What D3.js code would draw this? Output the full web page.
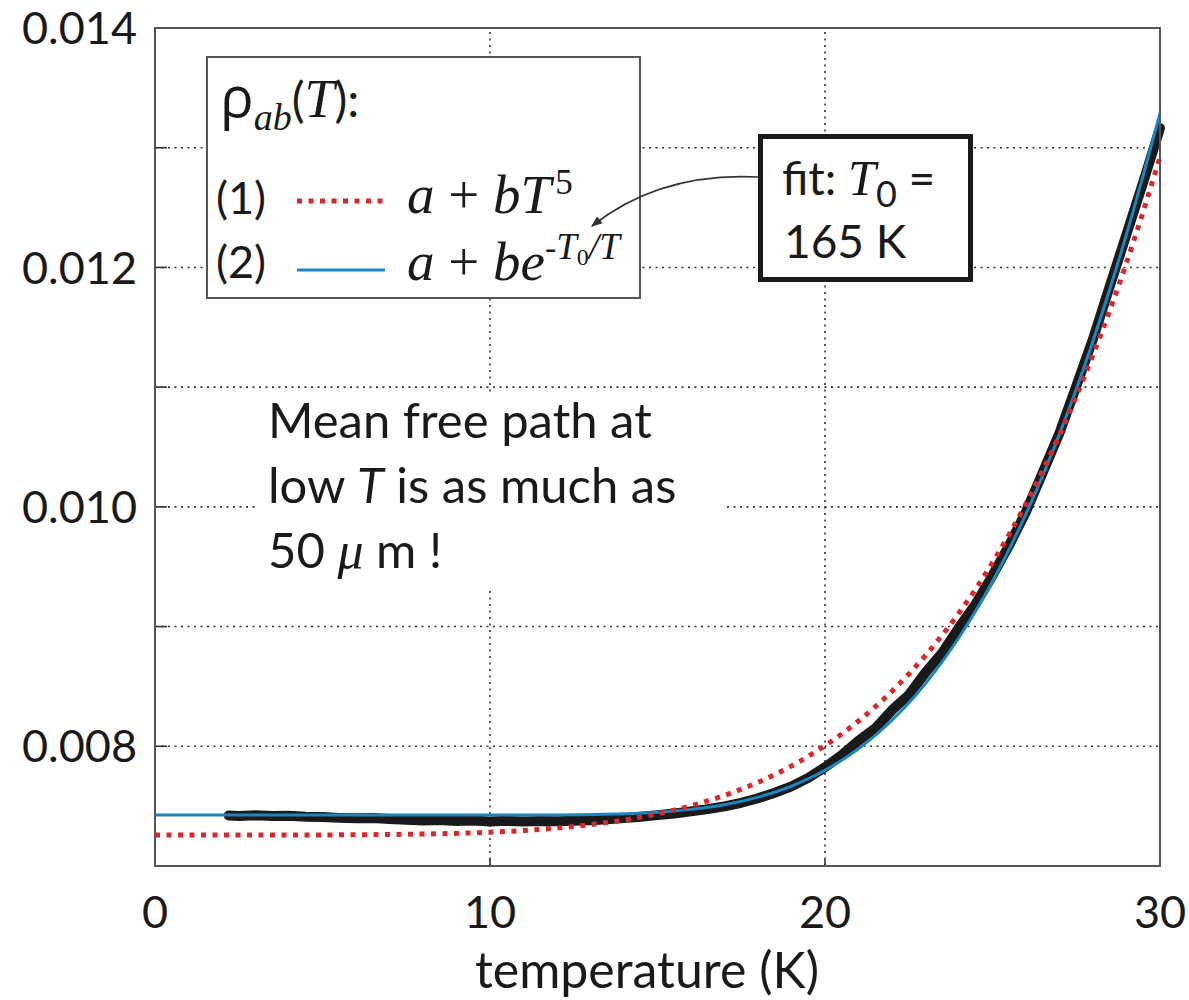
<!DOCTYPE html>
<html>
<head>
<meta charset="utf-8">
<script src="https://cdn.jsdelivr.net/npm/d3@7"></script>
<style>
  body { margin: 0; background: #fff; }
  svg { display: block; }
  .sans { font-family: Lato, 'Open Sans', sans-serif; fill: #1a1a1a; }
  .math { font-family: 'Liberation Serif', 'DejaVu Serif', serif; font-style: italic; fill: #1a1a1a; }
  .up { font-style: normal; }
</style>
</head>
<body>
<svg id="chart"></svg>
<script>
const width = 1189;
const height = 1000;
const margin = {top: 28, right: 29, bottom: 134, left: 155};

const dataT = [2.2, 2.5, 3.0, 3.5, 4.0, 4.5, 5.0, 5.5, 6.0, 6.5,
  7.0, 7.5, 8.0, 8.5, 9.0, 9.5, 10.0, 10.5, 11.0, 11.5,
  12.0, 12.5, 13.0, 13.5, 14.0, 14.5, 15.0, 15.5, 16.0, 16.5,
  17.0, 17.5, 18.0, 18.5, 19.0, 19.5, 20.0, 20.5, 21.0, 21.5,
  22.0, 22.5, 23.0, 23.5, 24.0, 24.5, 25.0, 25.5, 26.0, 26.5,
  27.0, 27.5, 28.0, 28.5, 29.0, 29.5, 30.0];
const dataRho = [0.007422, 0.007418, 0.007423, 0.007417, 0.007420, 0.007412, 0.007409, 0.007402, 0.007398, 0.007401,
  0.007392, 0.007386, 0.007380, 0.007384, 0.007376, 0.007380, 0.007372, 0.007377, 0.007371, 0.007376,
  0.007373, 0.007378, 0.007382, 0.007390, 0.007400, 0.007412, 0.007425, 0.007438, 0.007456, 0.007475,
  0.007498, 0.007528, 0.007566, 0.007612, 0.007665, 0.007736, 0.007825, 0.007926, 0.008047, 0.008150,
  0.008303, 0.008429, 0.008617, 0.008782, 0.008993, 0.009190, 0.009427, 0.009680, 0.009959, 0.010287,
  0.010617, 0.011007, 0.011403, 0.011843, 0.012277, 0.012713, 0.013165];

// fit (1): a + bT^5  (red dotted)
const fit1T = [0, 2, 4, 6, 8, 10, 12, 13, 14, 15, 16, 17, 18, 19, 20, 21, 22, 23, 24, 25, 26, 27, 28, 29, 30];
const fit1Rho = [0.007259, 0.007259, 0.007259, 0.007261, 0.007267, 0.007282, 0.007317, 0.007346, 0.007384, 0.007436,
  0.007503, 0.007590, 0.007699, 0.007836, 0.008005, 0.008211, 0.008460, 0.008759, 0.009114, 0.009534,
  0.010027, 0.010602, 0.011269, 0.012038, 0.012921];

// fit (2): a + b exp(-T0/T)  (blue)
const fit2T = [0, 2, 4, 6, 8, 10, 12, 14, 15, 16, 17, 18, 19, 20,
  20.5, 21, 21.5, 22, 22.5, 23, 23.5, 24, 24.5, 25, 25.5, 26, 26.5, 27, 27.5, 28, 28.5, 29, 29.5, 30];
const fit2Rho = [0.007425, 0.007425, 0.007425, 0.007425, 0.007425, 0.007425, 0.007427, 0.007436, 0.007449, 0.007473,
  0.007512, 0.007575, 0.007668, 0.007800,
  0.007884, 0.007980, 0.008092, 0.008219, 0.008362, 0.008525, 0.008707, 0.008909, 0.009132, 0.009377,
  0.009647, 0.009942, 0.010262, 0.010609, 0.010982, 0.011386, 0.011818, 0.012277, 0.012771, 0.013290];

const xTicks = [0, 10, 20, 30];
const yTicks = [0.008, 0.010, 0.012, 0.014];
const xGrid = [10, 20];
const yGrid = [0.008, 0.009, 0.010, 0.011, 0.012, 0.013];

const red = '#d7282c';
const blue = '#1a86c2';
const ink = '#1a1a1a';

const svg = d3.select('#chart')
  .attr('width', width)
  .attr('height', height);

const x = d3.scaleLinear().domain([0, 30]).range([margin.left, width - margin.right]);
const y = d3.scaleLinear().domain([0.007, 0.014]).range([height - margin.bottom, margin.top]);

// grid
svg.append('g')
  .selectAll('line')
  .data(yGrid)
  .enter()
  .append('line')
  .attr('x1', x(0)).attr('x2', x(30))
  .attr('y1', d => y(d)).attr('y2', d => y(d))
  .attr('stroke', '#333').attr('stroke-width', 1.6)
  .attr('stroke-dasharray', '2,4.5');

svg.append('g')
  .selectAll('line')
  .data(xGrid)
  .enter()
  .append('line')
  .attr('x1', d => x(d)).attr('x2', d => x(d))
  .attr('y1', y(0.007)).attr('y2', y(0.014))
  .attr('stroke', '#333').attr('stroke-width', 1.6)
  .attr('stroke-dasharray', '2,4.5');

// tick marks
svg.append('g')
  .selectAll('line')
  .data(yGrid)
  .enter()
  .append('line')
  .attr('x1', x(0)).attr('x2', x(0) + 12)
  .attr('y1', d => y(d)).attr('y2', d => y(d))
  .attr('stroke', '#333').attr('stroke-width', 1.6);

svg.append('g')
  .selectAll('line')
  .data(xGrid)
  .enter()
  .append('line')
  .attr('x1', d => x(d)).attr('x2', d => x(d))
  .attr('y1', y(0.007)).attr('y2', y(0.007) - 7)
  .attr('stroke', '#333').attr('stroke-width', 1.6);

// white patch behind the note
svg.append('rect')
  .attr('x', 255).attr('y', 395)
  .attr('width', 472).attr('height', 192)
  .attr('fill', '#fff');

const note = svg.append('text')
  .attr('class', 'sans')
  .attr('font-size', 49);
note.append('tspan').attr('x', 268).attr('y', 438).text('Mean free path at');
const l2 = note.append('tspan').attr('x', 268).attr('y', 503);
l2.append('tspan').text('low ');
l2.append('tspan').attr('font-style', 'italic').text('T');
l2.append('tspan').text(' is as much as');
const l3 = note.append('tspan').attr('x', 268).attr('y', 568);
l3.append('tspan').text('50 ');
l3.append('tspan').attr('class', 'math').attr('font-size', 52).text('\u03bc');
l3.append('tspan').text(' m !');

// curves
const line = d3.line()
  .x(d => x(d[0]))
  .y(d => y(d[1]));

svg.append('path')
  .datum(d3.zip(dataT, dataRho))
  .attr('d', line.curve(d3.curveLinear))
  .attr('fill', 'none')
  .attr('stroke', ink)
  .attr('stroke-width', 10)
  .attr('stroke-linejoin', 'round')
  .attr('stroke-linecap', 'round');

svg.append('path')
  .datum(d3.zip(fit2T, fit2Rho))
  .attr('d', line.curve(d3.curveMonotoneX))
  .attr('fill', 'none')
  .attr('stroke', blue)
  .attr('stroke-width', 3);

svg.append('path')
  .datum(d3.zip(fit1T, fit1Rho))
  .attr('d', line.curve(d3.curveMonotoneX))
  .attr('fill', 'none')
  .attr('stroke', red)
  .attr('stroke-width', 5)
  .attr('stroke-dasharray', '5,6.5');

// frame
svg.append('rect')
  .attr('x', x(0)).attr('y', y(0.014))
  .attr('width', x(30) - x(0)).attr('height', y(0.007) - y(0.014))
  .attr('fill', 'none')
  .attr('stroke', '#555')
  .attr('stroke-width', 2);

// tick labels
svg.append('g')
  .selectAll('text')
  .data(yTicks)
  .enter()
  .append('text')
  .attr('class', 'sans')
  .attr('font-size', 45)
  .attr('text-anchor', 'end')
  .attr('x', x(0) - 18)
  .attr('y', d => y(d))
  .attr('dy', '0.36em')
  .text(d => d3.format('.3f')(d));

svg.append('g')
  .selectAll('text')
  .data(xTicks)
  .enter()
  .append('text')
  .attr('class', 'sans')
  .attr('font-size', 45)
  .attr('text-anchor', 'middle')
  .attr('x', d => x(d))
  .attr('y', 928)
  .text(d => d);

svg.append('text')
  .attr('class', 'sans')
  .attr('font-size', 50)
  .attr('text-anchor', 'middle')
  .attr('x', 647)
  .attr('y', 988)
  .text('temperature (K)');

// legend
svg.append('rect')
  .attr('x', 207).attr('y', 57)
  .attr('width', 433).attr('height', 241)
  .attr('fill', '#fff')
  .attr('stroke', '#555')
  .attr('stroke-width', 2);

const head = svg.append('text').attr('x', 220).attr('y', 117);
head.append('tspan').attr('class', 'sans').style('font-family', "'Open Sans', sans-serif").attr('font-size', 56).text('\u03c1');
head.append('tspan').attr('class', 'math').attr('font-size', 38).attr('dy', 13).text('ab');
head.append('tspan').attr('class', 'sans').attr('font-size', 48).attr('dy', -13).text('(');
head.append('tspan').attr('class', 'math').attr('font-size', 54).text('T');
head.append('tspan').attr('class', 'sans').attr('font-size', 48).text('):');

svg.append('text').attr('class', 'sans').attr('font-size', 45)
  .attr('x', 216).attr('y', 214).text('(1)');
svg.append('text').attr('class', 'sans').attr('font-size', 45)
  .attr('x', 216).attr('y', 278).text('(2)');

svg.append('line')
  .attr('x1', 297).attr('x2', 385).attr('y1', 201).attr('y2', 201)
  .attr('stroke', red).attr('stroke-width', 5).attr('stroke-dasharray', '5,6.5');
svg.append('line')
  .attr('x1', 297).attr('x2', 385).attr('y1', 270).attr('y2', 270)
  .attr('stroke', blue).attr('stroke-width', 3);

const f1 = svg.append('text').attr('class', 'math').attr('font-size', 55).attr('x', 407).attr('y', 213);
f1.append('tspan').text('a ');
f1.append('tspan').attr('class', 'up').text('+');
f1.append('tspan').text(' bT');
f1.append('tspan').attr('class', 'up').attr('font-size', 35).attr('dx', 4).attr('dy', -19).text('5');

const f2 = svg.append('text').attr('class', 'math').attr('font-size', 55).attr('x', 407).attr('y', 280);
f2.append('tspan').text('a ');
f2.append('tspan').attr('class', 'up').text('+');
f2.append('tspan').text(' be');
f2.append('tspan').attr('class', 'up').attr('font-size', 34).attr('dy', -21).text('-');
f2.append('tspan').attr('font-size', 37).text('T');
f2.append('tspan').attr('class', 'up').attr('font-size', 24).attr('dy', 6).text('0');
f2.append('tspan').attr('font-size', 37).attr('dy', -6).text('/T');

// fit box + arrow
svg.append('defs').append('marker')
  .attr('id', 'head')
  .attr('viewBox', '0 0 10 10')
  .attr('refX', 9).attr('refY', 5)
  .attr('markerWidth', 7).attr('markerHeight', 7)
  .attr('orient', 'auto')
  .append('path')
  .attr('d', 'M0,1 L10,5 L0,9 z')
  .attr('fill', '#333');

svg.append('path')
  .attr('d', 'M758,177 Q660,172 592,226')
  .attr('fill', 'none')
  .attr('stroke', '#333')
  .attr('stroke-width', 1.6)
  .attr('marker-end', 'url(#head)');

svg.append('rect')
  .attr('x', 760.5).attr('y', 136.5)
  .attr('width', 210).attr('height', 143)
  .attr('fill', '#fff')
  .attr('stroke', ink)
  .attr('stroke-width', 5);

const fit = svg.append('text').attr('x', 782).attr('y', 195);
fit.append('tspan').attr('class', 'sans').attr('font-size', 46).text('fit: ');
fit.append('tspan').attr('class', 'math').attr('font-size', 50).text('T');
fit.append('tspan').attr('class', 'sans').attr('font-size', 36).attr('dy', 12).text('0');
fit.append('tspan').attr('class', 'sans').attr('font-size', 46).attr('dy', -12).text(' =');
svg.append('text').attr('class', 'sans').attr('font-size', 46)
  .attr('x', 784).attr('y', 258).text('165 K');
</script>
</body>
</html>
